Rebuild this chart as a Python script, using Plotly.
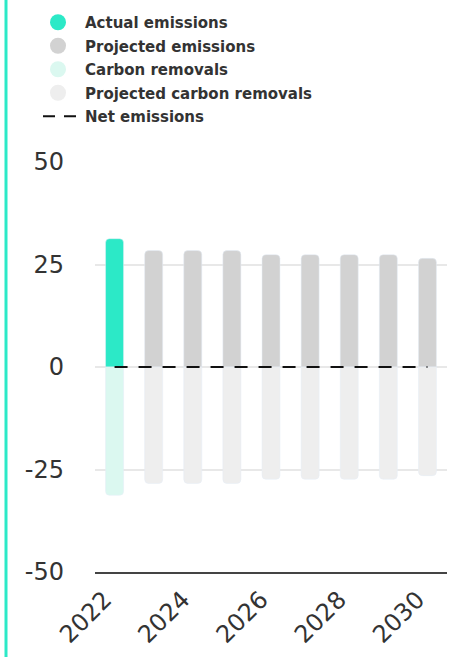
import plotly.graph_objects as go

years = [2022, 2023, 2024, 2025, 2026, 2027, 2028, 2029, 2030]
actual_years = [2022]
actual_emissions = [31.3]
projected_years = [2023, 2024, 2025, 2026, 2027, 2028, 2029, 2030]
projected_emissions = [28.4, 28.4, 28.4, 27.4, 27.4, 27.4, 27.4, 26.5]
carbon_removals = [-31.3]
projected_removals = [-28.4, -28.4, -28.4, -27.4, -27.4, -27.4, -27.4, -26.5]
net_emissions = [0, 0, 0, 0, 0, 0, 0, 0, 0]
y_ticks = [-50, -25, 0, 25, 50]
y_tick_labels = ["-50", "-25", "0", "25", "50"]
x_ticks = [2022, 2024, 2026, 2028, 2030]

C_ACT = "#2CE9C7"
C_PROJ = "#D2D2D2"
C_REM = "#DBF8F0"
C_PREM = "#EEEEEE"

W, H = 452, 657
ML, MR, MT, MB = 95, 5, 162, 85
PW, PH = W - ML - MR, H - MT - MB

fig = go.Figure()
bw = 0.46
fig.add_bar(x=actual_years, y=actual_emissions, marker=dict(color=C_ACT, cornerradius=4), width=bw, showlegend=False)
fig.add_bar(x=projected_years, y=projected_emissions, marker=dict(color=C_PROJ, cornerradius=4), width=bw, showlegend=False)
fig.add_bar(x=actual_years, y=carbon_removals, marker=dict(color=C_REM, cornerradius=4), width=bw, showlegend=False)
fig.add_bar(x=projected_years, y=projected_removals, marker=dict(color=C_PREM, cornerradius=4), width=bw, showlegend=False)
fig.add_scatter(x=years, y=net_emissions, mode="lines", line=dict(color="#111111", width=2, dash="13px,11px"), showlegend=False)

# legend entries
for name, col in [("Actual emissions", C_ACT), ("Projected emissions", C_PROJ),
                  ("Carbon removals", C_REM), ("Projected carbon removals", C_PREM)]:
    fig.add_scatter(x=[None], y=[None], mode="markers", name=name, legendgroup=name,
                    marker=dict(color=col, size=16, symbol="circle"))
fig.add_scatter(x=[None], y=[None], mode="lines", name="Net emissions", legendgroup="net",
                line=dict(color="#111111", width=2, dash="0px,7px,12px,9px,12px,100px"))

tickfont = dict(family="DejaVu Sans", size=24, color="#333333")
fig.update_layout(
    width=W, height=H,
    margin=dict(l=ML, r=MR, t=MT, b=MB, autoexpand=False),
    plot_bgcolor="white", paper_bgcolor="white",
    barmode="relative",
    legend=dict(x=(31 - ML) / PW, xanchor="left", y=(H - MB - 6) / PH,
                yanchor="top", font=dict(family="DejaVu Sans", size=15, color="#333333", weight="bold"),
                itemwidth=44, tracegroupgap=1, bgcolor="rgba(0,0,0,0)"),
    xaxis=dict(range=[2021.5, 2030.5], tickvals=x_ticks, tickangle=-45, tickfont=tickfont,
               showgrid=False, zeroline=False, showline=True, linecolor="#444444", linewidth=2,
               ticks="", ticklabelstandoff=2, ticklabelshift=-10),
    yaxis=dict(range=[-50, 50], tickvals=y_ticks, ticktext=y_tick_labels, tickfont=tickfont, showgrid=True,
               gridcolor="#E8E8E8", gridwidth=1.5, zeroline=False, ticks="", ticklabelstandoff=30,
               showline=False),
    shapes=[dict(type="line", xref="paper", yref="paper",
                 x0=(6 - ML) / PW, x1=(6 - ML) / PW, y0=-MB / PH, y1=(H - MB) / PH,
                 line=dict(color=C_ACT, width=3))],
)
fig.write_html("out.html")
